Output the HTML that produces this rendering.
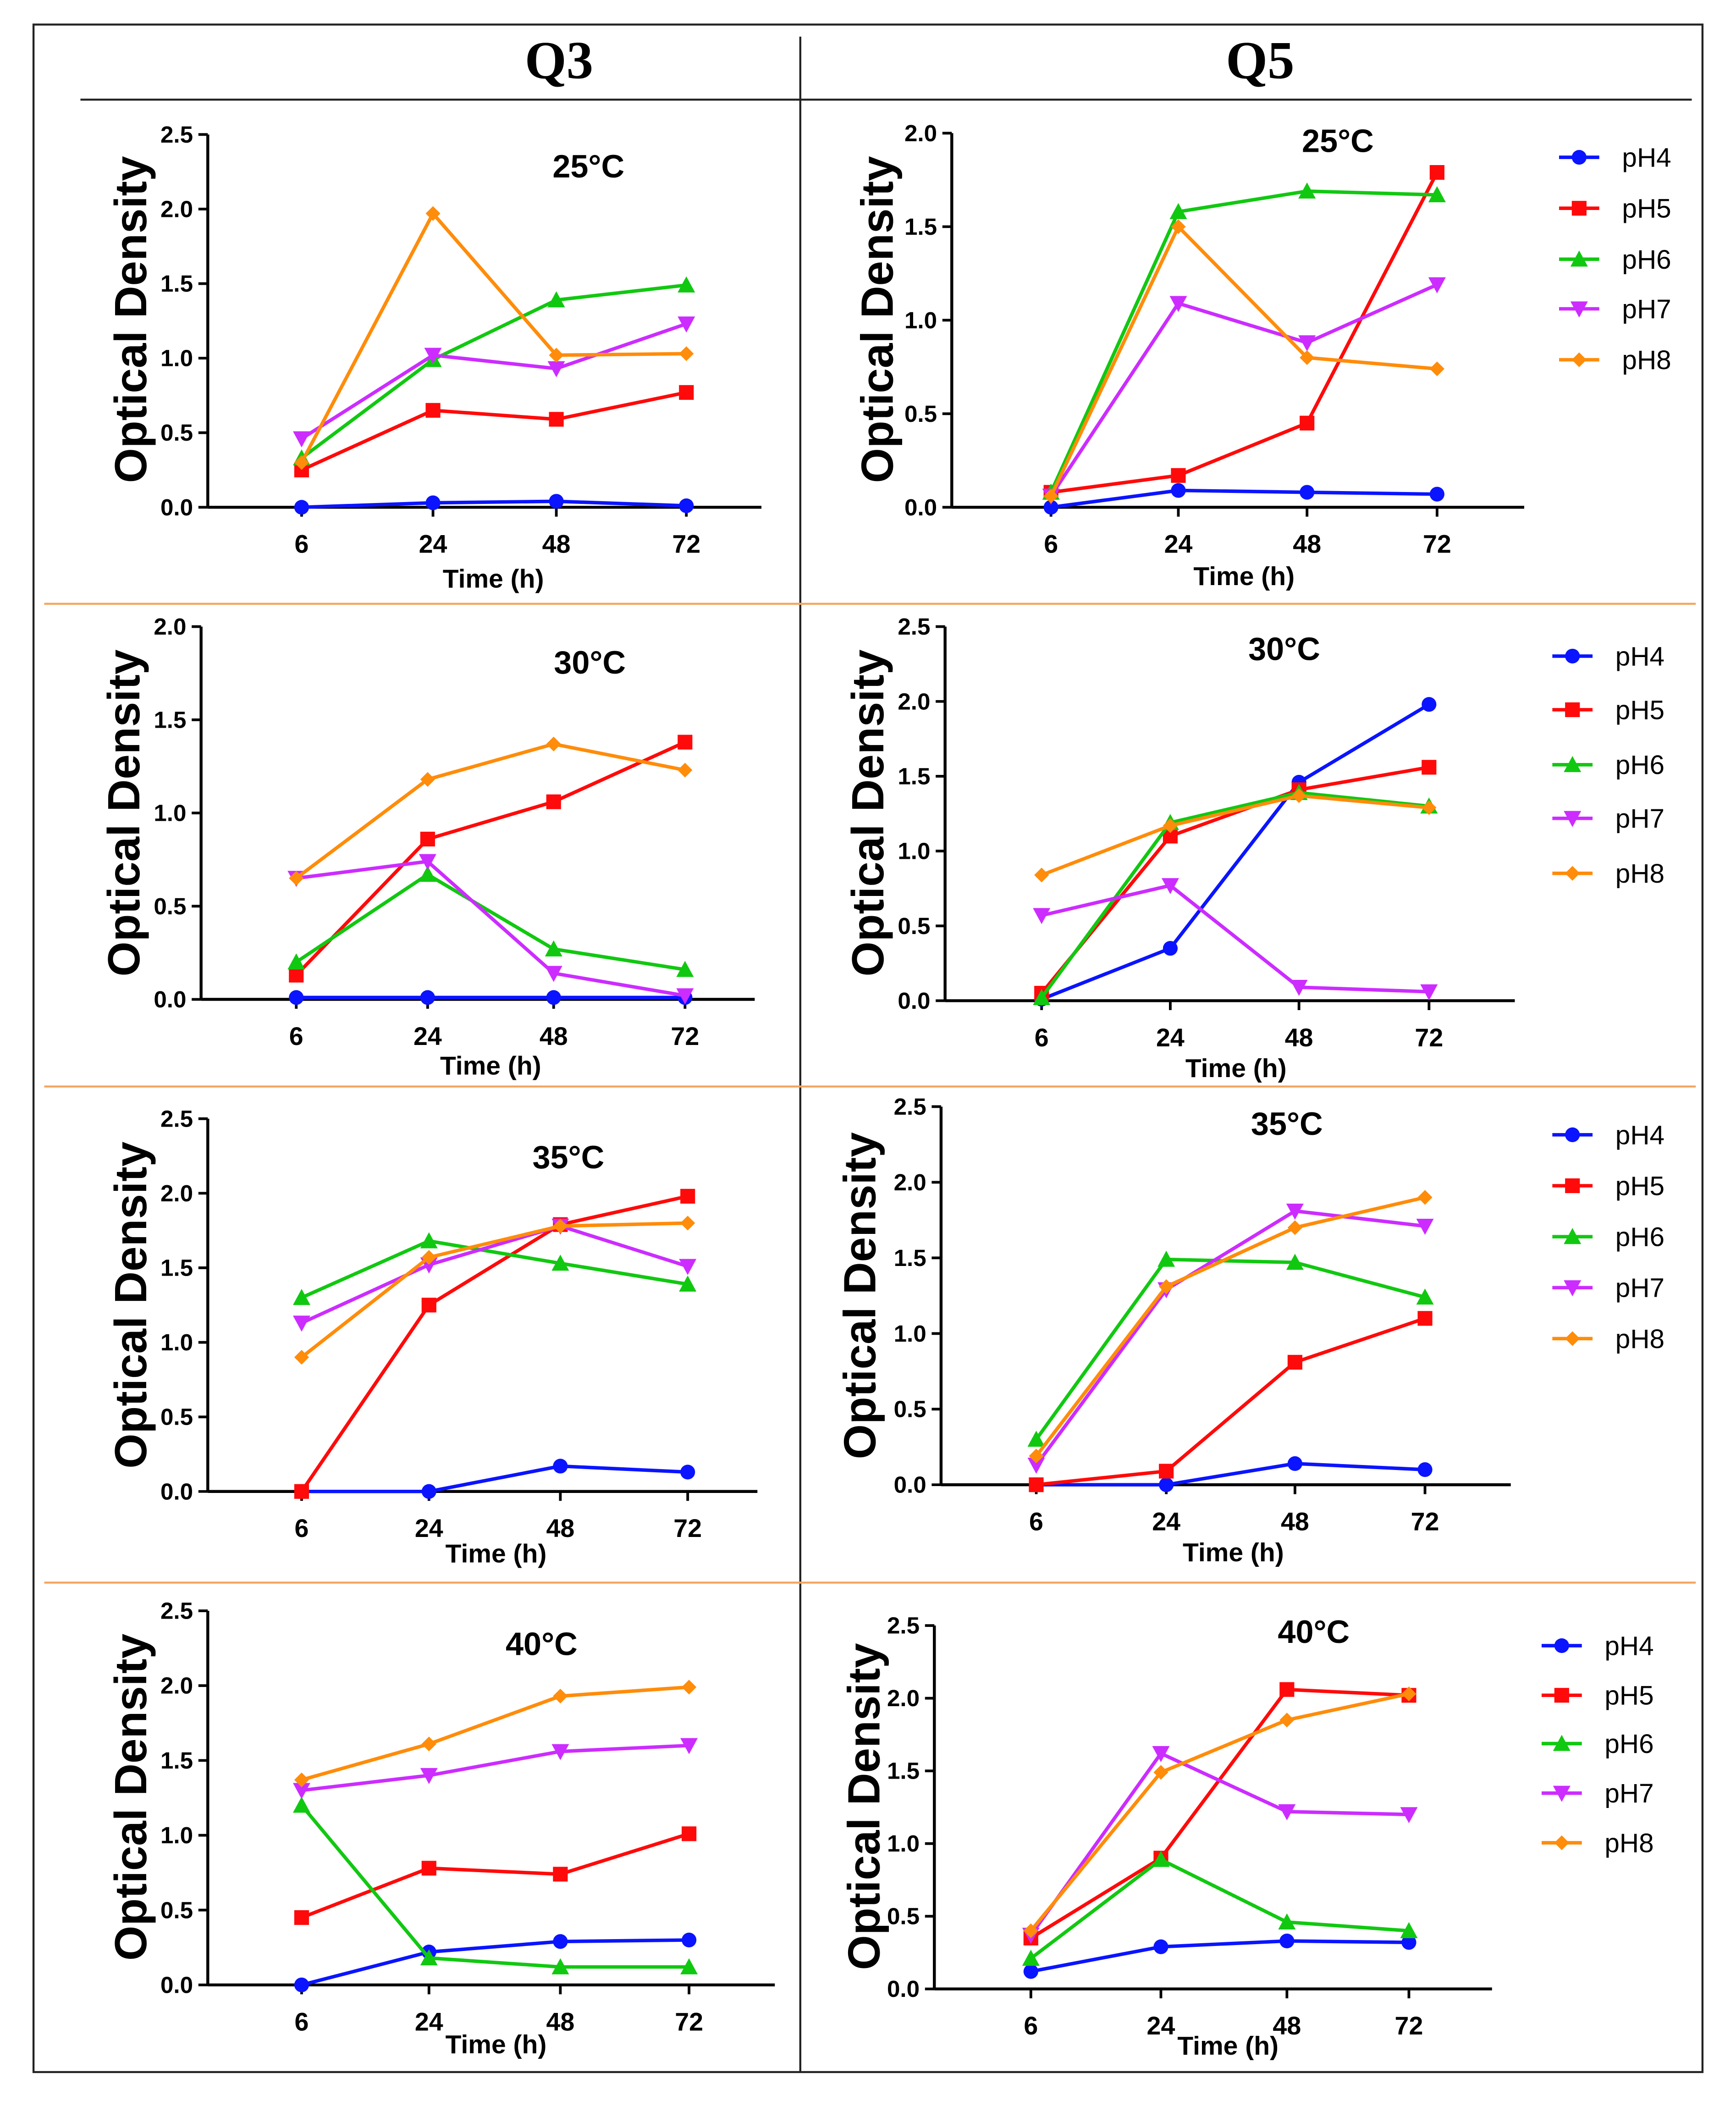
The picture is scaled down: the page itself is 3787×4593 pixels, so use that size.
<!DOCTYPE html>
<html><head><meta charset="utf-8"><style>
html,body{margin:0;padding:0;background:#fff;}
svg{display:block;}
text{font-family:"Liberation Sans",Arial,sans-serif;font-weight:bold;}
</style></head><body>
<svg id="fig" width="3787" height="4593" viewBox="0 0 1295 1570" xmlns="http://www.w3.org/2000/svg">
<rect x="25" y="18" width="1245" height="1527" fill="none" stroke="#222" stroke-width="1.5"/>
<line x1="597" y1="27" x2="597" y2="1545" stroke="#222" stroke-width="1.5"/>
<line x1="60" y1="74" x2="1262" y2="74" stroke="#222" stroke-width="1.5"/>
<line x1="33" y1="450" x2="1265" y2="450" stroke="#f4a460" stroke-width="1.5"/>
<line x1="33" y1="810" x2="1265" y2="810" stroke="#f4a460" stroke-width="1.5"/>
<line x1="33" y1="1180" x2="1265" y2="1180" stroke="#f4a460" stroke-width="1.5"/>
<text x="417" y="58" text-anchor="middle" style="font-family:'Liberation Serif',serif;font-size:40px">Q3</text>
<text x="940" y="58" text-anchor="middle" style="font-family:'Liberation Serif',serif;font-size:40px">Q5</text>
<g id="plots"></g>
</svg>
<script>
const times = ["6","24","48","72"];
const series = ["pH4","pH5","pH6","pH7","pH8"];
const q3_25 = [[0,0.03,0.04,0.01],[0.25,0.65,0.59,0.77],[0.33,0.99,1.39,1.49],[0.46,1.02,0.93,1.23],[0.3,1.97,1.02,1.03]];
const q5_25 = [[0,0.09,0.08,0.07],[0.08,0.17,0.45,1.79],[0.08,1.58,1.69,1.67],[0.06,1.09,0.88,1.19],[0.06,1.5,0.8,0.74]];
const q3_30 = [[0.01,0.01,0.01,0.01],[0.13,0.86,1.06,1.38],[0.2,0.67,0.27,0.16],[0.65,0.74,0.14,0.02],[0.65,1.18,1.37,1.23]];
const q5_30 = [[0.01,0.35,1.46,1.98],[0.05,1.1,1.41,1.56],[0.02,1.19,1.39,1.3],[0.57,0.77,0.09,0.06],[0.84,1.17,1.37,1.29]];
const q3_35 = [[0,0,0.17,0.13],[0,1.25,1.79,1.98],[1.3,1.68,1.53,1.39],[1.13,1.52,1.78,1.51],[0.9,1.57,1.78,1.8]];
const q5_35 = [[0,0,0.14,0.1],[0,0.09,0.81,1.1],[0.3,1.49,1.47,1.24],[0.13,1.29,1.81,1.71],[0.19,1.31,1.7,1.9]];
const q3_40 = [[0,0.22,0.29,0.3],[0.45,0.78,0.74,1.01],[1.2,0.18,0.12,0.12],[1.3,1.4,1.56,1.6],[1.37,1.61,1.93,1.99]];
const q5_40 = [[0.12,0.29,0.33,0.32],[0.35,0.9,2.06,2.02],[0.21,0.89,0.46,0.4],[0.37,1.62,1.22,1.2],[0.4,1.49,1.85,2.03]];
const colors = ["#0a14ff","#ff0a0a","#11c811","#cc2cff","#ff8c0a"];

const panels = [
 {name:"q3-25c",data:q3_25,title:"25°C",ax:155,y0:378,yt:100,ymax:2.5,xs:[225,323,415,512],xe:568,tx:439,ty:132,lx:98,ly:238,timex:368,timey:438,leg:null},
 {name:"q5-25c",data:q5_25,title:"25°C",ax:710,y0:378,yt:99,ymax:2.0,xs:[784,879,975,1072],xe:1137,tx:998,ty:113,lx:655,ly:238,timex:928,timey:436,leg:{x1:1163,x2:1193,tx:1210,ys:[117,155,193,230,268]}},
 {name:"q3-30c",data:q3_30,title:"30°C",ax:150,y0:745,yt:467,ymax:2.0,xs:[221,319,413,511],xe:563,tx:440,ty:502,lx:93,ly:606,timex:366,timey:801,leg:null},
 {name:"q5-30c",data:q5_30,title:"30°C",ax:705,y0:746,yt:467,ymax:2.5,xs:[777,873,969,1066],xe:1130,tx:958,ty:492,lx:648,ly:606,timex:922,timey:803,leg:{x1:1158,x2:1188,tx:1205,ys:[489,529,570,610,651]}},
 {name:"q3-35c",data:q3_35,title:"35°C",ax:155,y0:1112,yt:834,ymax:2.5,xs:[225,320,418,513],xe:565,tx:424,ty:871,lx:98,ly:973,timex:370,timey:1165,leg:null},
 {name:"q5-35c",data:q5_35,title:"35°C",ax:702,y0:1107,yt:825,ymax:2.5,xs:[773,870,966,1063],xe:1127,tx:960,ty:846,lx:642,ly:966,timex:920,timey:1164,leg:{x1:1158,x2:1188,tx:1205,ys:[846,884,922,960,998]}},
 {name:"q3-40c",data:q3_40,title:"40°C",ax:155,y0:1480,yt:1201,ymax:2.5,xs:[225,320,418,514],xe:578,tx:404,ty:1234,lx:98,ly:1340,timex:370,timey:1531,leg:null},
 {name:"q5-40c",data:q5_40,title:"40°C",ax:697,y0:1483,yt:1212,ymax:2.5,xs:[769,866,960,1051],xe:1113,tx:980,ty:1225,lx:645,ly:1347,timex:916,timey:1532,leg:{x1:1150,x2:1180,tx:1197,ys:[1227,1264,1300,1337,1374]}}
];
const NS="http://www.w3.org/2000/svg";
const root=document.getElementById("plots");
function mk(tag,attrs,parent){const e=document.createElementNS(NS,tag);for(const k in attrs)e.setAttribute(k,attrs[k]);(parent||root).appendChild(e);return e;}
function marker(g,i,x,y,c){
  const s=5.5;
  let m;
  if(i===0)m=mk("circle",{cx:x,cy:y,r:s,fill:c},g);
  else if(i===1)m=mk("rect",{x:x-s,y:y-s,width:2*s,height:2*s,fill:c},g);
  else if(i===2)m=mk("polygon",{points:`${x},${y-s-1} ${x-s-1},${y+s} ${x+s+1},${y+s}`,fill:c},g);
  else if(i===3)m=mk("polygon",{points:`${x},${y+s+1} ${x-s-1},${y-s} ${x+s+1},${y-s}`,fill:c},g);
  else m=mk("polygon",{points:`${x},${y-s} ${x-s},${y} ${x},${y+s} ${x+s},${y}`,fill:c},g);
  return m;
}
panels.forEach(p=>{
  const g=mk("g",{});
  
  
  const yS=v=>p.y0-(v/p.ymax)*(p.y0-p.yt);
  const xS=i=>p.xs[i];
  const ya=mk("line",{x1:p.ax,y1:p.y0,x2:p.ax,y2:p.yt,stroke:"#000","stroke-width":2.2},g);
  
  
  const xa=mk("line",{x1:p.ax,y1:p.y0,x2:p.xe,y2:p.y0,stroke:"#000","stroke-width":2.2},g);
  
  
  for(let v=0;v<=p.ymax+1e-9;v+=0.5){
    const y=yS(v);
    mk("line",{x1:p.ax-7,y1:y,x2:p.ax,y2:y,stroke:"#000","stroke-width":2},g);
    const t=mk("text",{x:p.ax-11,y:y+6,"text-anchor":"end","font-size":17.5},g);
    t.textContent=v.toFixed(1);
    
    
  }
  times.forEach((tl,i)=>{
    const x=xS(i);
    mk("line",{x1:x,y1:p.y0,x2:x,y2:p.y0+7,stroke:"#000","stroke-width":2},g);
    const t=mk("text",{x:x,y:p.y0+34,"text-anchor":"middle","font-size":19},g);
    t.textContent=tl;
    
    
  });
  const xt=mk("text",{x:p.timex,y:p.timey,"text-anchor":"middle","font-size":19.5},g);
  xt.textContent="Time (h)";
  
  
  const yt=mk("text",{x:0,y:0,"text-anchor":"middle","font-size":33.5,transform:`translate(${p.lx+11},${p.ly}) rotate(-90)`},g);
  yt.textContent="Optical Density";
  
  
  const tt=mk("text",{x:p.tx,y:p.ty,"text-anchor":"middle","font-size":24},g);
  tt.textContent=p.title;
  
  
  p.data.forEach((vals,si)=>{
    const c=colors[si];
    const pts=vals.map((v,i)=>xS(i)+","+yS(v)).join(" ");
    const pl=mk("polyline",{points:pts,fill:"none",stroke:c,"stroke-width":2.6},g);
    
    
    vals.forEach((v,i)=>{
      const m=marker(g,si,xS(i),yS(v),c);
      
      
    });
  });
  if(p.leg){
    series.forEach((s,si)=>{
      const y=p.leg.ys[si];
      const c=colors[si];
      const ln=mk("line",{x1:p.leg.x1,y1:y,x2:p.leg.x2,y2:y,stroke:c,"stroke-width":2.6},g);
      
      
      const m=marker(g,si,(p.leg.x1+p.leg.x2)/2,y,c);
      
      
      const t=mk("text",{x:p.leg.tx,y:y+7,"font-size":20,style:"font-weight:normal"},g);
      t.textContent=s;
      
      
    });
  }
});
</script>
</body></html>
